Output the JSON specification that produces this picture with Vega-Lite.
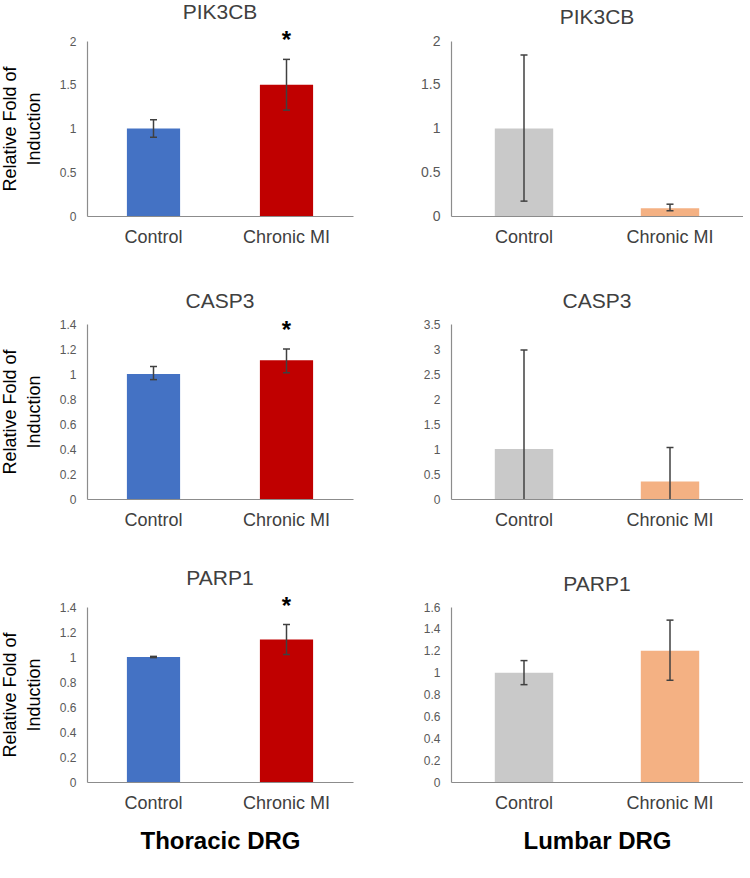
{
  "$schema": "https://vega.github.io/schema/vega-lite/v6.json",
  "padding": {"left": 1, "top": 2, "right": 0, "bottom": 0},
  "background": "white",
  "data": {"values": [
    {"panel": "T-PIK3CB", "gene": "PIK3CB", "region": "Thoracic DRG", "group": "Control", "mean": 1.0, "lo": 0.9, "hi": 1.1, "sig": false},
    {"panel": "T-PIK3CB", "gene": "PIK3CB", "region": "Thoracic DRG", "group": "Chronic MI", "mean": 1.5, "lo": 1.21, "hi": 1.79, "sig": true},
    {"panel": "L-PIK3CB", "gene": "PIK3CB", "region": "Lumbar DRG", "group": "Control", "mean": 1.0, "lo": 0.17, "hi": 1.84, "sig": false},
    {"panel": "L-PIK3CB", "gene": "PIK3CB", "region": "Lumbar DRG", "group": "Chronic MI", "mean": 0.09, "lo": 0.06, "hi": 0.135, "sig": false},
    {"panel": "T-CASP3", "gene": "CASP3", "region": "Thoracic DRG", "group": "Control", "mean": 1.0, "lo": 0.955, "hi": 1.06, "sig": false},
    {"panel": "T-CASP3", "gene": "CASP3", "region": "Thoracic DRG", "group": "Chronic MI", "mean": 1.11, "lo": 1.01, "hi": 1.2, "sig": true},
    {"panel": "L-CASP3", "gene": "CASP3", "region": "Lumbar DRG", "group": "Control", "mean": 1.0, "lo": 0, "hi": 2.98, "sig": false},
    {"panel": "L-CASP3", "gene": "CASP3", "region": "Lumbar DRG", "group": "Chronic MI", "mean": 0.35, "lo": 0, "hi": 1.03, "sig": false},
    {"panel": "T-PARP1", "gene": "PARP1", "region": "Thoracic DRG", "group": "Control", "mean": 1.0, "lo": 0.995, "hi": 1.005, "sig": false},
    {"panel": "T-PARP1", "gene": "PARP1", "region": "Thoracic DRG", "group": "Chronic MI", "mean": 1.14, "lo": 1.02, "hi": 1.26, "sig": true},
    {"panel": "L-PARP1", "gene": "PARP1", "region": "Lumbar DRG", "group": "Control", "mean": 1.0, "lo": 0.89, "hi": 1.11, "sig": false},
    {"panel": "L-PARP1", "gene": "PARP1", "region": "Lumbar DRG", "group": "Chronic MI", "mean": 1.2, "lo": 0.93, "hi": 1.48, "sig": false}
  ]},
  "columns": 2,
  "bounds": "flush",
  "spacing": {"row": 108, "column": 98},
  "resolve": {"scale": {"color": "independent"}},
  "concat": [
    {
      "width": 266, "height": 175, "title": "PIK3CB",
      "transform": [{"filter": "datum.panel === 'T-PIK3CB'"}],
      "encoding": {"x": {"field": "group", "type": "nominal", "sort": ["Control", "Chronic MI"], "scale": {"paddingInner": 0, "paddingOuter": 0}, "axis": {"title": null}}},
      "layer": [
        {"mark": {"type": "bar", "width": {"band": 0.4}},
         "encoding": {"y": {"field": "mean", "type": "quantitative", "scale": {"domain": [0, 2], "nice": false}, "axis": {"values": [0, 0.5, 1, 1.5, 2], "tickCount": 20, "format": "~g", "title": ["Relative Fold of", "Induction"]}},
                      "color": {"field": "group", "type": "nominal", "scale": {"domain": ["Control", "Chronic MI"], "range": ["#4472C4", "#C00000"]}, "legend": null}}},
        {"mark": {"type": "rule", "color": "#404040", "strokeWidth": 1.5}, "encoding": {"y": {"field": "lo", "type": "quantitative"}, "y2": {"field": "hi"}}},
        {"mark": {"type": "tick", "orient": "horizontal", "size": 7, "thickness": 1.5, "color": "#404040", "opacity": 1}, "encoding": {"y": {"field": "hi", "type": "quantitative"}}},
        {"transform": [{"filter": "datum.lo > 0"}], "mark": {"type": "tick", "orient": "horizontal", "size": 7, "thickness": 1.5, "color": "#404040", "opacity": 1}, "encoding": {"y": {"field": "lo", "type": "quantitative"}}},
        {"transform": [{"filter": "datum.sig"}], "mark": {"type": "text", "text": "*", "fontSize": 24, "fontWeight": "bold", "color": "#000000", "baseline": "middle", "dy": -18}, "encoding": {"y": {"field": "hi", "type": "quantitative"}}}
      ]
    },
    {
      "width": 292, "height": 175, "title": "PIK3CB",
      "transform": [{"filter": "datum.panel === 'L-PIK3CB'"}],
      "encoding": {"x": {"field": "group", "type": "nominal", "sort": ["Control", "Chronic MI"], "scale": {"paddingInner": 0, "paddingOuter": 0}, "axis": {"title": null}}},
      "layer": [
        {"mark": {"type": "bar", "width": {"band": 0.4}},
         "encoding": {"y": {"field": "mean", "type": "quantitative", "scale": {"domain": [0, 2], "nice": false}, "axis": {"values": [0, 0.5, 1, 1.5, 2], "tickCount": 20, "format": "~g", "title": null, "labelFontSize": 14}},
                      "color": {"field": "group", "type": "nominal", "scale": {"domain": ["Control", "Chronic MI"], "range": ["#C9C9C9", "#F4B183"]}, "legend": null}}},
        {"mark": {"type": "rule", "color": "#404040", "strokeWidth": 1.5}, "encoding": {"y": {"field": "lo", "type": "quantitative"}, "y2": {"field": "hi"}}},
        {"mark": {"type": "tick", "orient": "horizontal", "size": 7, "thickness": 1.5, "color": "#404040", "opacity": 1}, "encoding": {"y": {"field": "hi", "type": "quantitative"}}},
        {"transform": [{"filter": "datum.lo > 0"}], "mark": {"type": "tick", "orient": "horizontal", "size": 7, "thickness": 1.5, "color": "#404040", "opacity": 1}, "encoding": {"y": {"field": "lo", "type": "quantitative"}}}
      ]
    },
    {
      "width": 266, "height": 175, "title": "CASP3",
      "transform": [{"filter": "datum.panel === 'T-CASP3'"}],
      "encoding": {"x": {"field": "group", "type": "nominal", "sort": ["Control", "Chronic MI"], "scale": {"paddingInner": 0, "paddingOuter": 0}, "axis": {"title": null}}},
      "layer": [
        {"mark": {"type": "bar", "width": {"band": 0.4}},
         "encoding": {"y": {"field": "mean", "type": "quantitative", "scale": {"domain": [0, 1.4], "nice": false}, "axis": {"values": [0, 0.2, 0.4, 0.6, 0.8, 1, 1.2, 1.4], "tickCount": 20, "format": "~g", "title": ["Relative Fold of", "Induction"]}},
                      "color": {"field": "group", "type": "nominal", "scale": {"domain": ["Control", "Chronic MI"], "range": ["#4472C4", "#C00000"]}, "legend": null}}},
        {"mark": {"type": "rule", "color": "#404040", "strokeWidth": 1.5}, "encoding": {"y": {"field": "lo", "type": "quantitative"}, "y2": {"field": "hi"}}},
        {"mark": {"type": "tick", "orient": "horizontal", "size": 7, "thickness": 1.5, "color": "#404040", "opacity": 1}, "encoding": {"y": {"field": "hi", "type": "quantitative"}}},
        {"transform": [{"filter": "datum.lo > 0"}], "mark": {"type": "tick", "orient": "horizontal", "size": 7, "thickness": 1.5, "color": "#404040", "opacity": 1}, "encoding": {"y": {"field": "lo", "type": "quantitative"}}},
        {"transform": [{"filter": "datum.sig"}], "mark": {"type": "text", "text": "*", "fontSize": 24, "fontWeight": "bold", "color": "#000000", "baseline": "middle", "dy": -18}, "encoding": {"y": {"field": "hi", "type": "quantitative"}}}
      ]
    },
    {
      "width": 292, "height": 175, "title": "CASP3",
      "transform": [{"filter": "datum.panel === 'L-CASP3'"}],
      "encoding": {"x": {"field": "group", "type": "nominal", "sort": ["Control", "Chronic MI"], "scale": {"paddingInner": 0, "paddingOuter": 0}, "axis": {"title": null}}},
      "layer": [
        {"mark": {"type": "bar", "width": {"band": 0.4}},
         "encoding": {"y": {"field": "mean", "type": "quantitative", "scale": {"domain": [0, 3.5], "nice": false}, "axis": {"values": [0, 0.5, 1, 1.5, 2, 2.5, 3, 3.5], "tickCount": 20, "format": "~g", "title": null}},
                      "color": {"field": "group", "type": "nominal", "scale": {"domain": ["Control", "Chronic MI"], "range": ["#C9C9C9", "#F4B183"]}, "legend": null}}},
        {"mark": {"type": "rule", "color": "#404040", "strokeWidth": 1.5}, "encoding": {"y": {"field": "lo", "type": "quantitative"}, "y2": {"field": "hi"}}},
        {"mark": {"type": "tick", "orient": "horizontal", "size": 7, "thickness": 1.5, "color": "#404040", "opacity": 1}, "encoding": {"y": {"field": "hi", "type": "quantitative"}}},
        {"transform": [{"filter": "datum.lo > 0"}], "mark": {"type": "tick", "orient": "horizontal", "size": 7, "thickness": 1.5, "color": "#404040", "opacity": 1}, "encoding": {"y": {"field": "lo", "type": "quantitative"}}}
      ]
    },
    {
      "width": 266, "height": 175, "title": "PARP1",
      "transform": [{"filter": "datum.panel === 'T-PARP1'"}],
      "encoding": {"x": {"field": "group", "type": "nominal", "sort": ["Control", "Chronic MI"], "scale": {"paddingInner": 0, "paddingOuter": 0}, "axis": {"title": "Thoracic DRG"}}},
      "layer": [
        {"mark": {"type": "bar", "width": {"band": 0.4}},
         "encoding": {"y": {"field": "mean", "type": "quantitative", "scale": {"domain": [0, 1.4], "nice": false}, "axis": {"values": [0, 0.2, 0.4, 0.6, 0.8, 1, 1.2, 1.4], "tickCount": 20, "format": "~g", "title": ["Relative Fold of", "Induction"]}},
                      "color": {"field": "group", "type": "nominal", "scale": {"domain": ["Control", "Chronic MI"], "range": ["#4472C4", "#C00000"]}, "legend": null}}},
        {"mark": {"type": "rule", "color": "#404040", "strokeWidth": 1.5}, "encoding": {"y": {"field": "lo", "type": "quantitative"}, "y2": {"field": "hi"}}},
        {"mark": {"type": "tick", "orient": "horizontal", "size": 7, "thickness": 1.5, "color": "#404040", "opacity": 1}, "encoding": {"y": {"field": "hi", "type": "quantitative"}}},
        {"transform": [{"filter": "datum.lo > 0"}], "mark": {"type": "tick", "orient": "horizontal", "size": 7, "thickness": 1.5, "color": "#404040", "opacity": 1}, "encoding": {"y": {"field": "lo", "type": "quantitative"}}},
        {"transform": [{"filter": "datum.sig"}], "mark": {"type": "text", "text": "*", "fontSize": 24, "fontWeight": "bold", "color": "#000000", "baseline": "middle", "dy": -18}, "encoding": {"y": {"field": "hi", "type": "quantitative"}}}
      ]
    },
    {
      "width": 292, "height": 175, "title": "PARP1",
      "transform": [{"filter": "datum.panel === 'L-PARP1'"}],
      "encoding": {"x": {"field": "group", "type": "nominal", "sort": ["Control", "Chronic MI"], "scale": {"paddingInner": 0, "paddingOuter": 0}, "axis": {"title": "Lumbar DRG"}}},
      "layer": [
        {"mark": {"type": "bar", "width": {"band": 0.4}},
         "encoding": {"y": {"field": "mean", "type": "quantitative", "scale": {"domain": [0, 1.6], "nice": false}, "axis": {"values": [0, 0.2, 0.4, 0.6, 0.8, 1, 1.2, 1.4, 1.6], "tickCount": 20, "format": "~g", "title": null}},
                      "color": {"field": "group", "type": "nominal", "scale": {"domain": ["Control", "Chronic MI"], "range": ["#C9C9C9", "#F4B183"]}, "legend": null}}},
        {"mark": {"type": "rule", "color": "#404040", "strokeWidth": 1.5}, "encoding": {"y": {"field": "lo", "type": "quantitative"}, "y2": {"field": "hi"}}},
        {"mark": {"type": "tick", "orient": "horizontal", "size": 7, "thickness": 1.5, "color": "#404040", "opacity": 1}, "encoding": {"y": {"field": "hi", "type": "quantitative"}}},
        {"transform": [{"filter": "datum.lo > 0"}], "mark": {"type": "tick", "orient": "horizontal", "size": 7, "thickness": 1.5, "color": "#404040", "opacity": 1}, "encoding": {"y": {"field": "lo", "type": "quantitative"}}}
      ]
    }
  ],
  "config": {
    "font": "Liberation Sans",
    "view": {"stroke": null},
    "axis": {"domainColor": "#8c8c8c", "domainWidth": 1.2, "ticks": false, "tickSize": 0, "grid": false, "labelOverlap": false},
    "axisY": {"labelFontSize": 12, "labelColor": "#595959", "labelPadding": 11, "titleFontSize": 18, "titleFontWeight": "normal", "titleColor": "#000000", "titleLineHeight": 24, "titlePadding": 16},
    "axisX": {"labelFontSize": 18, "labelColor": "#404040", "labelAngle": 0, "labelPadding": 12, "titleFontSize": 24, "titleFontWeight": "bold", "titleColor": "#000000", "titlePadding": 17},
    "title": {"fontSize": 21, "fontWeight": "normal", "color": "#404040", "offset": 6}
  }
}
